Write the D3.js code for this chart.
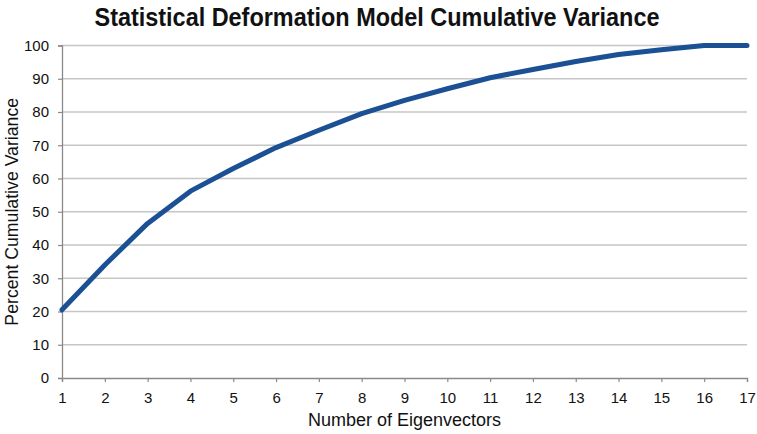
<!DOCTYPE html>
<html><head><meta charset="utf-8">
<script src="https://cdn.jsdelivr.net/npm/d3@7"></script>
<style>
body{margin:0;background:#fff;}
text{font-family:"Liberation Sans",Arial,Helvetica,sans-serif;}
</style></head>
<body>
<svg id="chart" width="757" height="434"></svg>
<script>
const eigenvectors = [1,2,3,4,5,6,7,8,9,10,11,12,13,14,15,16,17];
const cumulativeVariance = [20.5,34,46.5,56.2,63,69.3,74.5,79.5,83.5,87,90.3,92.8,95.2,97.3,98.7,100,100];
const yTicks = [0,10,20,30,40,50,60,70,80,90,100];
const title = "Statistical Deformation Model Cumulative Variance";
const xTitle = "Number of Eigenvectors";
const yTitle = "Percent Cumulative Variance";

const svg = d3.select("#chart");
const m = {left:62, right:10, top:45.5, bottom:56};
const W = 757, H = 434;
const x = d3.scaleLinear().domain([1,17]).range([m.left, W - m.right]);
const y = d3.scaleLinear().domain([0,100]).range([H - m.bottom, m.top]);

// gridlines
svg.append("g").selectAll("line").data(yTicks.filter(d=>d>0)).join("line")
  .attr("x1", x(1)).attr("x2", x(17))
  .attr("y1", d=>y(d)).attr("y2", d=>y(d))
  .attr("stroke","#c6c6c6").attr("stroke-width",1.3);

// axes
const yAxis = svg.append("g").attr("transform",`translate(${x(1)},0)`)
  .call(d3.axisLeft(y).tickValues(yTicks).tickSize(4).tickPadding(9));
const xAxis = svg.append("g").attr("transform",`translate(0,${y(0)})`)
  .call(d3.axisBottom(x).tickValues(eigenvectors).tickSize(4).tickPadding(10).tickFormat(d3.format("d")));
[yAxis,xAxis].forEach(g=>{
  g.select(".domain").attr("stroke","#8a8a8a").attr("stroke-width",1.3);
  g.selectAll(".tick line").attr("stroke","#8a8a8a").attr("stroke-width",1.2);
  g.selectAll(".tick text").attr("fill","#111").style("font-size","15px").style("font-family","'Liberation Sans',Arial,sans-serif");
});

// line
svg.append("path").datum(eigenvectors.map((e,i)=>[e,cumulativeVariance[i]]))
  .attr("d", d3.line().x(d=>x(d[0])).y(d=>y(d[1])))
  .attr("fill","none").attr("stroke","#1b5095").attr("stroke-width",5)
  .attr("stroke-linejoin","round").attr("stroke-linecap","round");

// titles
svg.append("text").attr("x",377).attr("y",25.5).attr("text-anchor","middle")
  .style("font-size","25px").style("font-weight","bold").attr("fill","#111")
  .attr("textLength",565).attr("lengthAdjust","spacingAndGlyphs").text(title);
svg.append("text").attr("x",(x(1)+x(17))/2).attr("y",426).attr("text-anchor","middle")
  .style("font-size","18px").attr("fill","#111").text(xTitle);
svg.append("text").attr("transform",`translate(18,${(y(0)+y(100))/2}) rotate(-90)`)
  .attr("text-anchor","middle").style("font-size","17.7px").attr("fill","#111").text(yTitle);
</script>
</body></html>
